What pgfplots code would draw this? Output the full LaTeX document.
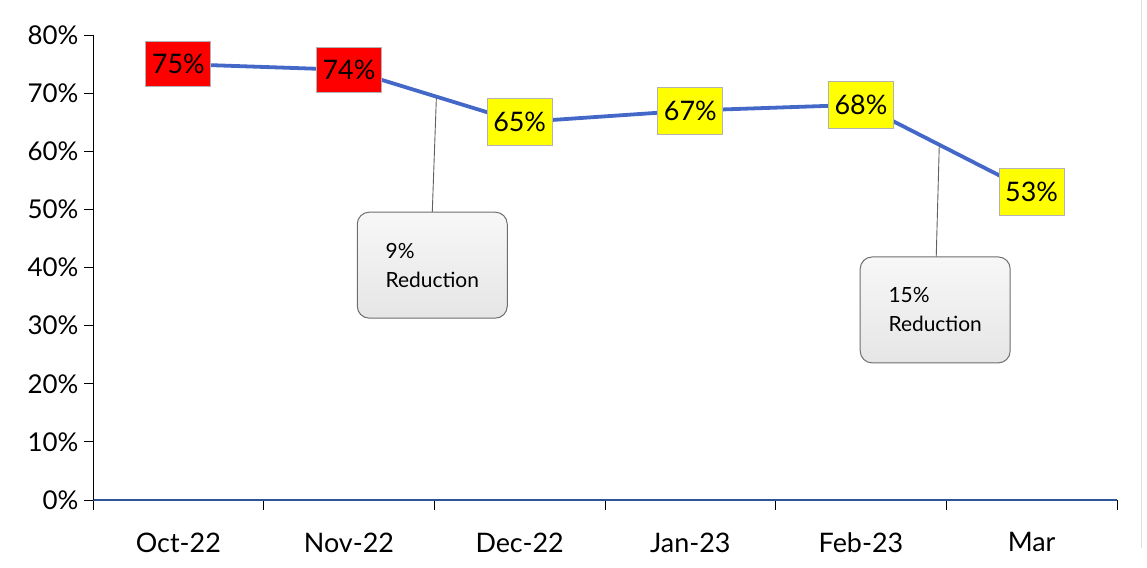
\documentclass[border=0pt]{standalone}
\usepackage{pgfplots}
\pgfplotsset{compat=1.18}
\usepackage{fontspec}
\setmainfont{Lato}
\usetikzlibrary{shadings}
\definecolor{lineblue}{RGB}{68,104,200}
\definecolor{axisblue}{RGB}{47,85,151}
\definecolor{boxedge}{RGB}{110,110,110}
\definecolor{lblred}{RGB}{255,0,0}
\definecolor{lblyellow}{RGB}{255,255,0}
\begin{document}
\begin{tikzpicture}[x=1bp,y=1bp]
\path[use as bounding box] (0,0) rectangle (1147,568);
\draw[gray!25, line width=1bp] (1141,20) -- (1141,568);
\begin{axis}[
  at={(93bp,68bp)}, anchor=south west,
  scale only axis, width=1024bp, height=465bp,
  xmin=-0.5, xmax=5.5, ymin=0, ymax=80,
  axis x line=bottom, axis y line=left,
  axis line style={-},
  x axis line style={axisblue, line width=1.3bp},
  y axis line style={black, line width=1bp},
  xtick={0,...,5},
  xticklabels={Oct-22,Nov-22,Dec-22,Jan-23,Feb-23,Mar},
  major x tick style={draw=none},
  minor xtick={-0.5,0.5,...,5.5},
  minor x tick style={black, line width=0.8bp},
  minor tick length=10bp,
  ytick={0,10,...,80},
  yticklabels={0\%,10\%,20\%,30\%,40\%,50\%,60\%,70\%,80\%},
  y tick style={black, line width=0.8bp},
  major tick length=9bp,
  tick align=outside,
  xticklabel style={font=\fontsize{27}{32}\selectfont, yshift=-20bp},
  yticklabel style={font=\fontsize{26}{30}\selectfont, xshift=-2bp},
  clip=false,
]
\addplot[lineblue, line width=3.8bp, mark=none]
  coordinates {(0,75) (1,74) (2,65) (3,67) (4,68) (5,53)};

\draw[gray!75!black, line width=0.9bp] (axis cs:1.512,69.2) -- (axis cs:1.488,49.5);
\draw[gray!75!black, line width=0.9bp] (axis cs:4.459,61.1) -- (axis cs:4.441,41.8);

\addplot[draw=none, mark=none, point meta=y,
  nodes near coords={\pgfmathprintnumber[assume math mode=true]{\pgfplotspointmeta}\%},
  nodes near coords align=center,
  every node near coord/.append style={anchor=center, fill=lblred, draw=gray!60, line width=0.8bp,
    minimum width=65bp, minimum height=45bp, inner sep=1bp,
    font=\fontsize{27}{30}\selectfont, text=black}]
  coordinates {(0,75) (1,74)};
\addplot[draw=none, mark=none, point meta=y,
  nodes near coords={\pgfmathprintnumber[assume math mode=true]{\pgfplotspointmeta}\%},
  nodes near coords align=center,
  every node near coord/.append style={anchor=center, fill=lblyellow, draw=gray!60, line width=0.8bp,
    minimum width=65bp, minimum height=47bp, inner sep=1bp,
    font=\fontsize{27}{30}\selectfont, text=black}]
  coordinates {(2,65) (3,67) (4,68) (5,53)};

\node[draw=boxedge, rounded corners=12bp, top color=gray!6, bottom color=gray!20,
  line width=1bp, minimum width=150bp, minimum height=106bp, align=left,
  font=\fontsize{21}{29}\selectfont] at (axis cs:1.488,40.4) {9\%\\Reduction};
\node[draw=boxedge, rounded corners=12bp, top color=gray!6, bottom color=gray!20,
  line width=1bp, minimum width=150bp, minimum height=106bp, align=left,
  font=\fontsize{21}{29}\selectfont] at (axis cs:4.435,32.7) {15\%\\Reduction};
\end{axis}
\end{tikzpicture}
\end{document}
